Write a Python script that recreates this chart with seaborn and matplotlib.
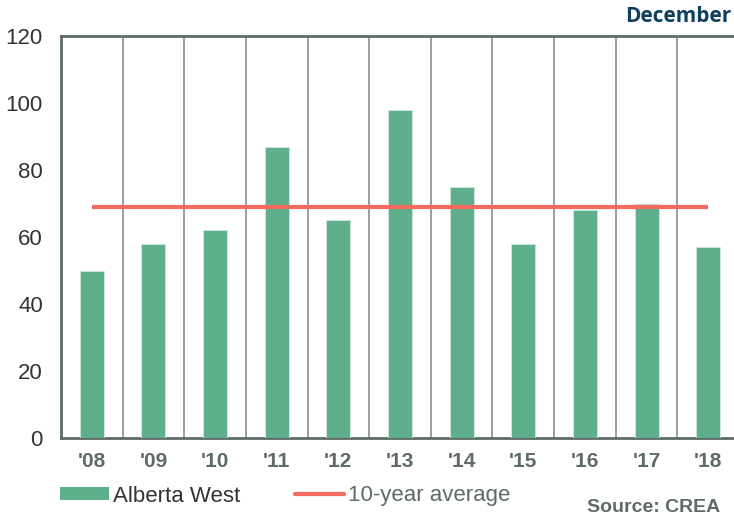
import matplotlib
matplotlib.use("Agg")
import matplotlib.pyplot as plt
import seaborn as sns
import pandas as pd
import numpy as np
from matplotlib.patches import Patch
from matplotlib.lines import Line2D

years = ["'08", "'09", "'10", "'11", "'12", "'13", "'14", "'15", "'16", "'17", "'18"]
values = [50, 58, 62, 87, 65, 98, 75, 58, 68, 70, 57]
avg_value = 69
series_name = "Alberta West"
avg_name = "10-year average"

sns.set_theme(style="white")
plt.rcParams['font.family'] = ['Liberation Sans', 'DejaVu Sans']

W, H = 734, 521
fig = plt.figure(figsize=(W / 100, H / 100), dpi=100)
ax = fig.add_axes([61 / W, (H - 438) / H, 678 / W, 402 / H])

df = pd.DataFrame({"year": years, "value": values})
bar_color = "#5FAF8C"
sns.barplot(data=df, x="year", y="value", color=bar_color, width=0.39,
            saturation=1, ax=ax, zorder=3, edgecolor="#CFE8DB", linewidth=0.6)
ax.plot(np.arange(len(years)), [avg_value] * len(years), color="#F26B5E",
        lw=3, zorder=4, solid_capstyle="butt")

ax.set_xlim(-0.5, len(years) - 0.5)
ax.set_ylim(0, 120)
ax.set_yticks(range(0, 121, 20))
ax.set_xticks(np.arange(-0.5, len(years), 1.0), minor=True)
ax.grid(False)
ax.grid(True, which="minor", axis="x", color="#8E97A3", lw=1.3, zorder=1)
ax.tick_params(axis="x", which="both", length=0)
ax.tick_params(axis="y", length=0, pad=13, labelsize=16, labelcolor="#333333")
ax.tick_params(axis="x", pad=10)
for lab in ax.get_xticklabels():
    lab.set_fontweight("bold")
    lab.set_fontsize(15)
    lab.set_color("#5E6B66")
ax.set_xlabel("")
ax.set_ylabel("")

for s in ["left", "bottom", "top"]:
    ax.spines[s].set_visible(True)
    ax.spines[s].set_color("#5E6B66")
    ax.spines[s].set_linewidth(2)
ax.spines["right"].set_visible(False)

handles = [Patch(facecolor=bar_color, edgecolor="none"),
           Line2D([0], [0], color="#F26B5E", lw=3)]
leg = fig.legend(handles, [series_name, avg_name], loc="center left",
                 bbox_to_anchor=(60 / W, 1 - 496 / H), ncol=2, frameon=False,
                 fontsize=16, handlelength=2.2, handleheight=0.55,
                 handletextpad=0.2, columnspacing=2.45, borderpad=0,
                 borderaxespad=0)
leg.get_texts()[0].set_color("#333333")
leg.get_texts()[1].set_color("#5E6B66")

fig.text(720 / W, 1 - 508 / H, "Source: CREA", ha="right", va="center",
         fontsize=14, fontweight="bold", color="#5E6B66")
fig.text(731 / W, 1 - 17 / H, "December", ha="right", va="center",
         fontsize=15, fontweight="bold", color="#0E3F5E",
         family=["Open Sans", "DejaVu Sans"])

fig.savefig("out.png", dpi=100)
